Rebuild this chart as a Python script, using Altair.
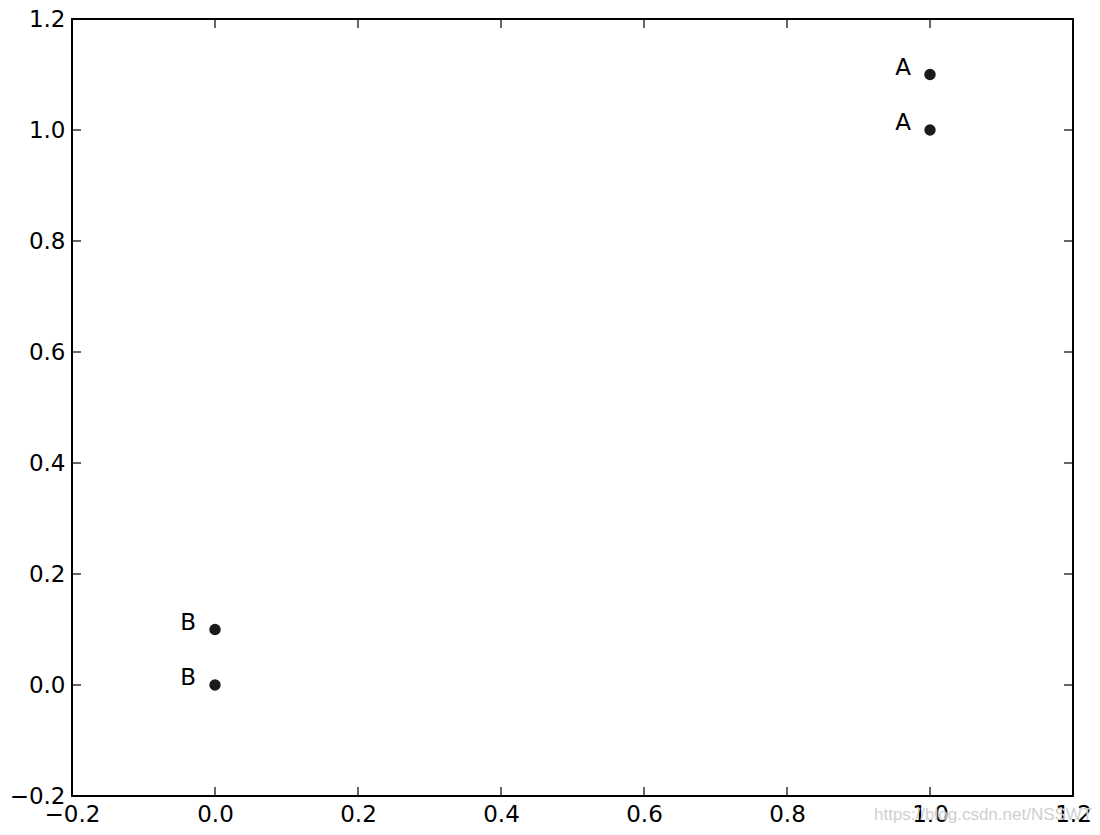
import altair as alt
import pandas as pd

# data
px = [1.0, 1.0, 0.0, 0.0]
py = [1.1, 1.0, 0.0, 0.1]
labels = ["A", "A", "B", "B"]
tick_vals = [-0.2, 0.0, 0.2, 0.4, 0.6, 0.8, 1.0, 1.2]

W, H = 1001, 777
TL = 9
FONT = "DejaVu Sans"

df = pd.DataFrame({"x": px, "y": py, "label": labels})
tdf = pd.DataFrame({"t": tick_vals})

xs = alt.Scale(domain=[-0.2, 1.2], nice=False, zero=False)
ys = alt.Scale(domain=[-0.2, 1.2], nice=False, zero=False)

lab_expr = "replace(format(datum.value, '.1f'), '-', '\u2212')"

x_axis = alt.Axis(values=tick_vals, labelExpr=lab_expr, ticks=False, grid=False,
                  domain=False, labelFontSize=23, labelFont=FONT, labelColor="black",
                  labelPadding=7, labelFlush=False, labelOverlap=False, title=None)
y_axis = alt.Axis(values=tick_vals, labelExpr=lab_expr, ticks=False, grid=False,
                  domain=False, labelFontSize=23, labelFont=FONT, labelColor="black",
                  labelPadding=7, labelFlush=False, labelOverlap=False, title=None)

base = alt.Chart(df)
points = base.mark_circle(size=130, color="#1a1a1a", opacity=1).encode(
    x=alt.X("x:Q", scale=xs, axis=x_axis),
    y=alt.Y("y:Q", scale=ys, axis=y_axis),
)
texts = base.mark_text(align="right", baseline="alphabetic", dx=-19, dy=0,
                       fontSize=23, font=FONT, color="black").encode(
    x=alt.X("x:Q", scale=xs, axis=x_axis), y=alt.Y("y:Q", scale=ys, axis=y_axis),
    text="label:N")

tb = alt.Chart(tdf)
rule_style = dict(color="black", strokeWidth=1.2)
t_bottom = tb.mark_rule(**rule_style).encode(
    x=alt.X("t:Q", scale=xs, axis=x_axis), y=alt.value(H), y2=alt.value(H - TL))
t_top = tb.mark_rule(**rule_style).encode(
    x=alt.X("t:Q", scale=xs, axis=x_axis), y=alt.value(0), y2=alt.value(TL))
t_left = tb.mark_rule(**rule_style).encode(
    y=alt.Y("t:Q", scale=ys, axis=y_axis), x=alt.value(0), x2=alt.value(TL))
t_right = tb.mark_rule(**rule_style).encode(
    y=alt.Y("t:Q", scale=ys, axis=y_axis), x=alt.value(W), x2=alt.value(W - TL))

wm = alt.Chart(pd.DataFrame({"w": ["https://blog.csdn.net/NSSWT"]})).mark_text(
    align="left", baseline="alphabetic", fontSize=17, font="Liberation Sans",
    color="#d0d0d0").encode(x=alt.value(802), y=alt.value(H + 24), text="w:N")

chart = alt.layer(points, texts, wm, t_bottom, t_top, t_left, t_right).properties(
    width=W, height=H,
    autosize=alt.AutoSizeParams(type="none"),
    padding={"left": 64, "top": 11, "right": 19, "bottom": 30},
    background="white",
).configure_view(stroke="black", strokeWidth=2)

chart.save("out.html", embed_options={"renderer": "svg", "actions": False})
